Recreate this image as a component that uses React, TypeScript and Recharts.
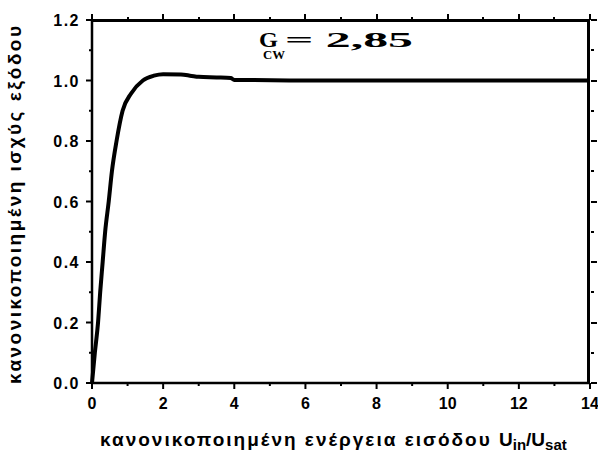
import React from "react";
import { LineChart, Line, XAxis, YAxis } from "recharts";

const energyIn = [0, 0.08, 0.17, 0.23, 0.3, 0.37, 0.47, 0.56, 0.69, 0.86, 1.1, 1.43, 1.74, 2.0, 2.5, 2.8, 3.0, 3.5, 3.9, 4.0, 6, 8, 10, 12, 14];
const powerOut = [0, 0.1, 0.2, 0.3, 0.4, 0.5, 0.6, 0.7, 0.8, 0.9, 0.957, 1.0, 1.016, 1.021, 1.02, 1.015, 1.012, 1.01, 1.008, 1.002, 1.0, 1.0, 1.0, 1.0, 1.0];

const xTicks = [0, 1, 2, 3, 4, 5, 6, 7, 8, 9, 10, 11, 12, 13, 14];
const xMajor = [0, 2, 4, 6, 8, 10, 12, 14];
const yTicks = [0, 0.1, 0.2, 0.3, 0.4, 0.5, 0.6, 0.7, 0.8, 0.9, 1.0, 1.1, 1.2];
const yMajor = ["0.0", "0.2", "0.4", "0.6", "0.8", "1.0", "1.2"];
const X_MAX = 14;
const Y_MAX = 1.2;

const data = energyIn.map((x, i) => ({ x, y: powerOut[i] }));

const FONT = "'Liberation Sans', Arial, sans-serif";
const SERIF = "'Liberation Serif', 'Times New Roman', serif";

const W = 598;
const H = 455;
const M_TOP = 20;
const M_RIGHT = 8;
const Y_AXIS_W = 92;
const X_AXIS_H = 72;
const PL = Y_AXIS_W;
const PR = W - M_RIGHT;
const PT = M_TOP;
const PB = H - X_AXIS_H;
const sx = (v: number) => PL + (v / X_MAX) * (PR - PL);
const sy = (v: number) => PB - (v / Y_MAX) * (PB - PT);

const isMajorX = (v: number) => xMajor.includes(v);
const isMajorY = (v: number) => yMajor.includes(v.toFixed(1));

const BottomTick = (props: any) => {
  const { x, y, payload } = props;
  const major = isMajorX(payload.value);
  return (
    <g>
      <line x1={x} y1={y} x2={x} y2={y + (major ? 6 : 3)} stroke="#000" strokeWidth={2} />
      {major && (
        <text x={x} y={y + 26} textAnchor="middle" fontFamily={FONT} fontWeight="bold" fontSize={16} fill="#000">
          {payload.value}
        </text>
      )}
    </g>
  );
};

const LeftTick = (props: any) => {
  const { x, y, payload } = props;
  const major = isMajorY(payload.value);
  return (
    <g>
      <line x1={x} y1={y} x2={x - (major ? 6 : 3)} y2={y} stroke="#000" strokeWidth={2} />
      {major && (
        <text x={x - 12} y={y + 6} textAnchor="end" fontFamily={FONT} fontWeight="bold" fontSize={16} letterSpacing={1.5} fill="#000">
          {Number(payload.value).toFixed(1)}
        </text>
      )}
    </g>
  );
};

const axisLine = { stroke: "#000", strokeWidth: 2.5 };

export default function App() {
  return (
    <div style={{ position: "absolute", left: 0, top: 0, width: W, height: H, background: "#fff" }}>
      <LineChart width={W} height={H} data={data} margin={{ top: M_TOP, right: M_RIGHT, left: 0, bottom: 0 }}>
        <XAxis
          dataKey="x"
          type="number"
          domain={[0, X_MAX]}
          ticks={xTicks}
          interval={0}
          height={X_AXIS_H}
          tickSize={0}
          tickMargin={0}
          tickLine={false}
          axisLine={axisLine}
          tick={BottomTick}
        />
        <YAxis
          type="number"
          domain={[0, Y_MAX]}
          ticks={yTicks}
          interval={0}
          width={Y_AXIS_W}
          tickSize={0}
          tickMargin={0}
          tickLine={false}
          axisLine={axisLine}
          tick={LeftTick}
        />
        <Line dataKey="y" type="monotone" stroke="#000" strokeWidth={4} dot={false} isAnimationActive={false} />
      </LineChart>
      <div
        style={{
          position: "absolute",
          left: PL - 1,
          top: PT - 1,
          width: PR - PL + 1,
          height: PB - PT,
          borderTop: "3px solid #000",
          borderRight: "3px solid #000",
          boxSizing: "border-box",
          pointerEvents: "none",
        }}
      />
      {xTicks.map((v) => (
        <div
          key={"dt" + v}
          style={{
            position: "absolute",
            left: sx(v) - 1,
            top: PT - (isMajorX(v) ? 6 : 3),
            width: 2,
            height: isMajorX(v) ? 6 : 3,
            background: "#000",
          }}
        />
      ))}
      {yTicks.map((v) => (
        <div
          key={"dr" + v}
          style={{
            position: "absolute",
            left: PR + 1,
            top: sy(v) - 1,
            width: isMajorY(v) ? 6 : 3,
            height: 2,
            background: "#000",
          }}
        />
      ))}
      <svg width={W} height={H} style={{ position: "absolute", left: 0, top: 0, pointerEvents: "none" }}>
        <text
          transform="translate(21,205) rotate(-90)"
          textAnchor="middle"
          fontFamily={FONT}
          fontWeight="bold"
          fontSize={19}
          textLength={358}
          lengthAdjust="spacing"
          fill="#000"
        >
          κανονικοποιημένη ισχύς εξόδου
        </text>
        <text x={100} y={446} fontFamily={FONT} fontWeight="bold" fontSize={19} fill="#000">
          <tspan textLength={397} lengthAdjust="spacing">κανονικοποιημένη ενέργεια εισόδου </tspan>
          <tspan>U</tspan>
          <tspan fontSize={15} dy={4}>in</tspan>
          <tspan dy={-4}>/U</tspan>
          <tspan fontSize={15} dy={4}>sat</tspan>
        </text>
        <text fontFamily={SERIF} fontWeight="bold" fill="#000">
          <tspan x={259} y={47} fontSize={22} textLength={19} lengthAdjust="spacingAndGlyphs">G</tspan>
          <tspan x={263} y={59} fontSize={13} textLength={22} lengthAdjust="spacingAndGlyphs">CW</tspan>
          <tspan x={285} y={47} fontSize={22} textLength={128} lengthAdjust="spacingAndGlyphs">= 2,85</tspan>
        </text>
      </svg>
    </div>
  );
}
